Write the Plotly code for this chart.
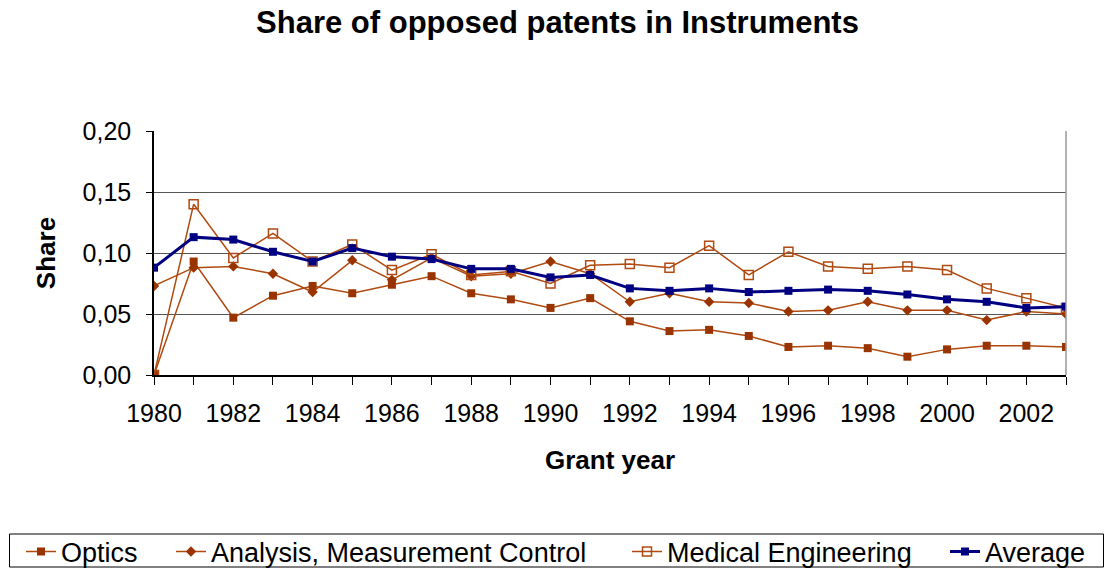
import plotly.graph_objects as go

years = list(range(1980, 2004))
optics = [0.0, 0.093, 0.047, 0.065, 0.073, 0.067, 0.074, 0.081, 0.067, 0.062, 0.055, 0.063,
          0.044, 0.036, 0.037, 0.032, 0.023, 0.024, 0.022, 0.015, 0.021, 0.024, 0.024, 0.023]
amc = [0.073, 0.088, 0.089, 0.083, 0.068, 0.094, 0.078, 0.096, 0.081, 0.083, 0.093, 0.083,
       0.060, 0.067, 0.060, 0.059, 0.052, 0.053, 0.060, 0.053, 0.053, 0.045, 0.052, 0.050]
medical = [0.0, 0.140, 0.096, 0.116, 0.093, 0.107, 0.086, 0.099, 0.082, 0.085, 0.075, 0.090,
           0.091, 0.088, 0.106, 0.082, 0.101, 0.089, 0.087, 0.089, 0.086, 0.071, 0.063, 0.055]
average = [0.088, 0.113, 0.111, 0.101, 0.093, 0.104, 0.097, 0.095, 0.087, 0.087, 0.080, 0.082,
           0.071, 0.069, 0.071, 0.068, 0.069, 0.070, 0.069, 0.066, 0.062, 0.060, 0.055, 0.056]
x_tick_labels = [str(y) for y in range(1980, 2004, 2)]

FONT = "Liberation Sans, Arial, sans-serif"
BROWN = "#993300"
BROWN2 = "#B04A10"
NAVY = "#000080"

W, H = 1104, 590  # page viewport shows top 569 px, like the reference
PL, PR, PT, PB = 154, 1066, 131, 375
PW, PH = PR - PL, PB - PT


def px_x(px):
    return (px - PL) / PW


def px_y(py):
    return (PB - py) / PH


fig = go.Figure()
fig.add_trace(go.Scatter(x=years, y=optics, name="Optics", mode="lines+markers", legend="legend",
                         line=dict(color=BROWN2, width=1.5),
                         marker=dict(symbol="square", size=8, color=BROWN)))
fig.add_trace(go.Scatter(x=years, y=amc, name="Analysis, Measurement Control", mode="lines+markers",
                         legend="legend2",
                         line=dict(color=BROWN2, width=1.5),
                         marker=dict(symbol="diamond", size=8, color=BROWN)))
fig.add_trace(go.Scatter(x=years, y=medical, name="Medical Engineering", mode="lines+markers",
                         legend="legend3",
                         line=dict(color=BROWN2, width=1.5),
                         marker=dict(symbol="square-open", size=9, color=BROWN2, line=dict(width=1.5))))
fig.add_trace(go.Scatter(x=years, y=average, name="Average", mode="lines+markers", legend="legend4",
                         line=dict(color=NAVY, width=3),
                         marker=dict(symbol="square", size=8, color=NAVY)))

LEG_Y = px_y(552)
leg_common = dict(orientation="h", xref="paper", yref="paper", xanchor="left", yanchor="middle",
                  y=LEG_Y, borderwidth=0, bgcolor="rgba(0,0,0,0)",
                  font=dict(family=FONT, size=27), itemwidth=30)

fig.update_layout(
    width=W, height=H,
    paper_bgcolor="white", plot_bgcolor="white",
    separators=",.",
    margin=dict(l=PL, r=W - PR, t=PT, b=H - PB),
    font=dict(family=FONT, size=25, color="black"),
    title=dict(text="<b>Share of opposed patents in Instruments</b>", x=0.505, xanchor="center",
               xref="container", yref="container",
               y=1 - 22 / H, yanchor="middle", font=dict(family=FONT, size=31)),
    showlegend=True,
    legend=dict(leg_common, x=px_x(67 - 46)),
    legend2=dict(leg_common, x=px_x(217 - 46)),
    legend3=dict(leg_common, x=px_x(673 - 46)),
    legend4=dict(leg_common, x=px_x(995 - 50)),
)
# legend frame (right side runs off the page, as in the reference)
fig.add_shape(type="rect", xref="paper", yref="paper",
              x0=px_x(9.5), x1=px_x(1103.5), y0=px_y(567), y1=px_y(534),
              line=dict(color="black", width=1), fillcolor="rgba(0,0,0,0)", layer="below")

fig.update_xaxes(
    range=[1980, 2003], tickmode="array", tickvals=list(range(1980, 2004, 2)),
    ticktext=x_tick_labels,
    ticks="outside", ticklen=8, tickcolor="black", showgrid=False,
    showline=True, linecolor="black", linewidth=1.5,
    minor=dict(ticks="outside", ticklen=8, tickcolor="black", dtick=1, tick0=1980, showgrid=False),
    title=dict(text="<b>Grant year</b>", font=dict(family=FONT, size=26), standoff=25),
    tickfont=dict(size=25), ticklabelstandoff=7, zeroline=False, automargin=False,
)
fig.update_yaxes(
    range=[0, 0.2], dtick=0.05, tickformat=".2f",
    ticks="outside", ticklen=6, tickcolor="black",
    showgrid=True, gridcolor="#555555", gridwidth=1.2,
    showline=True, linecolor="black", linewidth=1.5,
    title=dict(text="<b>Share</b>", font=dict(family=FONT, size=26), standoff=19),
    tickfont=dict(size=25), ticklabelstandoff=10, zeroline=False, automargin=False,
)
fig.add_shape(type="line", xref="paper", yref="paper", x0=1, x1=1, y0=0, y1=1,
              line=dict(color="#999999", width=1.5))

fig.write_html(
    "out.html",
    config={"displayModeBar": False},
    post_script="document.body.style.margin='0';document.body.style.overflow='hidden';"
                "document.documentElement.style.overflow='hidden';",
)
